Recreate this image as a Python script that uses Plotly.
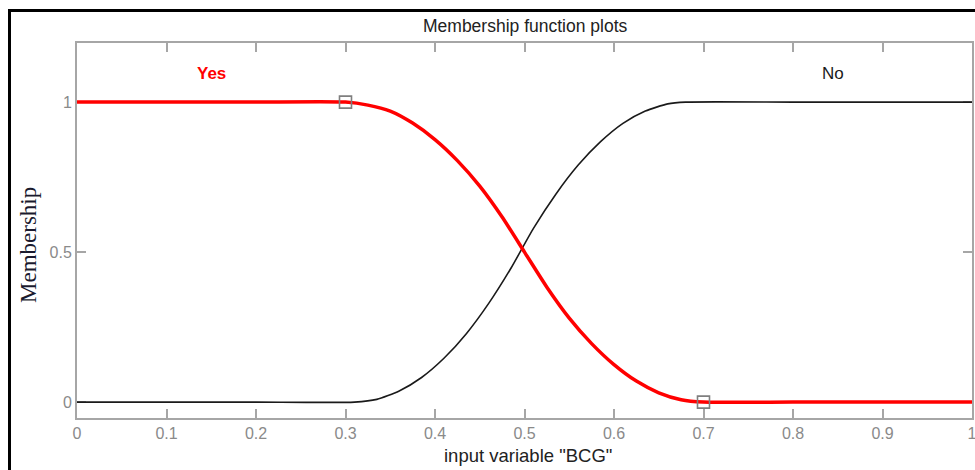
import plotly.graph_objects as go

# ---- data ----
yes_x = [0.0, 0.1, 0.2, 0.3, 0.325, 0.35, 0.375, 0.4, 0.425, 0.45, 0.475, 0.5,
         0.525, 0.55, 0.575, 0.6, 0.625, 0.65, 0.675, 0.7, 0.8, 0.9, 1.0]
yes_y = [1.0, 1.0, 1.0, 1.0, 0.99, 0.97, 0.93, 0.875, 0.805, 0.72, 0.617, 0.5,
         0.383, 0.28, 0.195, 0.125, 0.07, 0.031, 0.008, 0.0, 0.0, 0.0, 0.0]

no_x = [0.0, 0.1, 0.2, 0.31, 0.335, 0.36, 0.385, 0.41, 0.435, 0.46, 0.485, 0.51,
        0.535, 0.56, 0.585, 0.61, 0.635, 0.66, 0.68, 0.8, 0.9, 1.0]
no_y = [0.0, 0.0, 0.0, 0.0, 0.009, 0.037, 0.082, 0.146, 0.228, 0.329, 0.447, 0.579,
        0.693, 0.79, 0.868, 0.929, 0.97, 0.994, 1.0, 1.0, 1.0, 1.0]

param_x = [0.3, 0.7]
param_y = [1.0, 0.0]

mf_names = ["Yes", "No"]
mf_label_x = [0.150, 0.845]
mf_label_y = [1.097, 1.095]

x_ticks = [0, 0.1, 0.2, 0.3, 0.4, 0.5, 0.6, 0.7, 0.8, 0.9, 1]
x_tick_text = ["0", "0.1", "0.2", "0.3", "0.4", "0.5", "0.6", "0.7", "0.8", "0.9", "1"]
y_ticks = [0, 0.5, 1]
y_tick_text = ["0", "0.5", "1"]

W, H = 975, 470
ML, MT = 77, 43
MR = W - 972
MB = H - 418
PW, PH = W - ML - MR, H - MT - MB


def px_to_paper_x(px):
    return (px - ML) / PW


def px_to_paper_y(py):
    return (H - MB - py) / PH


fig = go.Figure()

fig.add_trace(go.Scatter(x=no_x, y=no_y, mode="lines",
                         line=dict(color="#1a1a1a", width=1.6, shape="spline", smoothing=0.6),
                         hoverinfo="skip", showlegend=False))
fig.add_trace(go.Scatter(x=yes_x, y=yes_y, mode="lines",
                         line=dict(color="#ff0000", width=3.5, shape="spline", smoothing=0.6),
                         hoverinfo="skip", showlegend=False))
fig.add_trace(go.Scatter(x=param_x, y=param_y, mode="markers",
                         marker=dict(symbol="square-open", size=12,
                                     color="#7f7f7f", line=dict(width=1.6, color="#7f7f7f")),
                         hoverinfo="skip", showlegend=False))

axis_common = dict(showgrid=False, zeroline=False, showline=True, linecolor="#a6a6a6",
                   linewidth=2, mirror="ticks", ticks="inside", ticklen=9,
                   tickwidth=1.5, tickcolor="#a6a6a6", automargin=False,
                   layer="below traces", ticklabeloverflow="allow",
                   tickfont=dict(family="Liberation Sans, Arial", size=16, color="#8a8a8a"))

fig.update_xaxes(range=[0, 1], tickvals=x_ticks, ticktext=x_tick_text, **axis_common)
fig.update_yaxes(range=[-0.053, 1.197], tickvals=y_ticks, ticktext=y_tick_text, **axis_common)

# membership function labels
fig.add_annotation(x=mf_label_x[0], y=mf_label_y[0], text="<b>" + mf_names[0] + "</b>",
                   showarrow=False, font=dict(family="Liberation Sans, Arial", size=17, color="#ff0000"))
fig.add_annotation(x=mf_label_x[1], y=mf_label_y[1], text=mf_names[1],
                   showarrow=False, font=dict(family="Liberation Sans, Arial", size=17, color="#1a1a1a"))

# title and axis titles
fig.add_annotation(xref="paper", yref="paper", x=px_to_paper_x(525), y=px_to_paper_y(25.5),
                   text="Membership function plots", showarrow=False,
                   xanchor="center", yanchor="middle",
                   font=dict(family="Liberation Sans, Arial", size=17.5, color="#222222"))
fig.add_annotation(xref="paper", yref="paper", x=px_to_paper_x(528), y=px_to_paper_y(455),
                   text='input variable "BCG"', showarrow=False,
                   xanchor="center", yanchor="middle",
                   font=dict(family="Liberation Sans, Arial", size=18.5, color="#222222"))
fig.add_annotation(xref="paper", yref="paper", x=px_to_paper_x(29), y=px_to_paper_y(245),
                   text="Membership", showarrow=False, textangle=-90,
                   xanchor="center", yanchor="middle",
                   font=dict(family="Liberation Serif, Times New Roman", size=23, color="#1a1a2e"))

# outer black frame
fig.add_shape(type="rect", xref="paper", yref="paper",
              x0=px_to_paper_x(9.5), x1=px_to_paper_x(990),
              y0=px_to_paper_y(490), y1=px_to_paper_y(10.5),
              line=dict(color="black", width=3), fillcolor="rgba(0,0,0,0)", layer="above")

fig.update_layout(width=W, height=H, margin=dict(l=ML, r=MR, t=MT, b=MB),
                  plot_bgcolor="white", paper_bgcolor="white", showlegend=False)

fig.write_html("out.html", config={"displayModeBar": False},
               post_script="document.body.style.margin='0';document.body.style.overflow='hidden';")
